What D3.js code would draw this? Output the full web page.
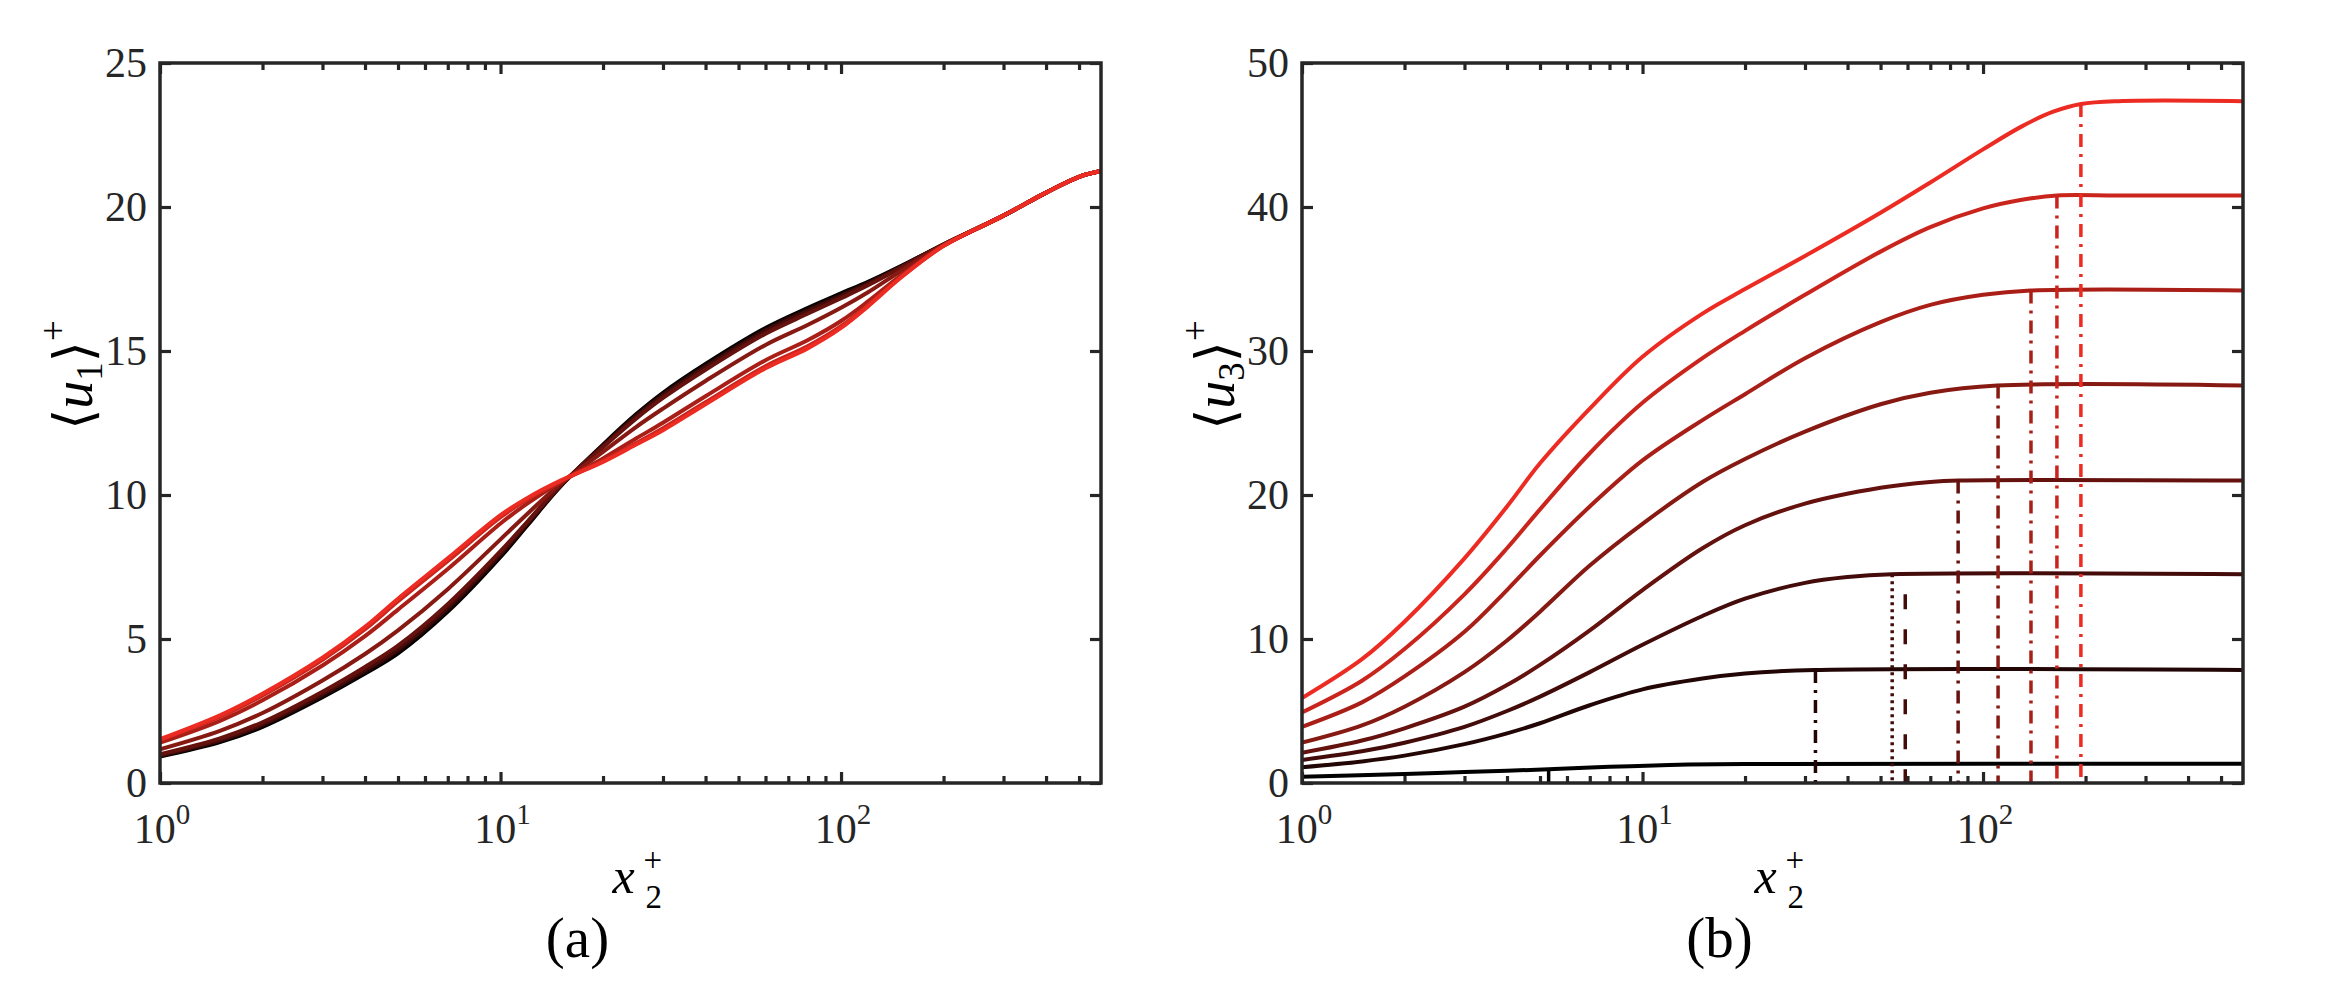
<!DOCTYPE html>
<html>
<head>
<meta charset="utf-8">
<script src="https://cdn.jsdelivr.net/npm/d3@7"></script>
<style>
  body { margin: 0; background: #fff; }
  svg { display: block; }
</style>
</head>
<body>
<div id="fig"></div>
<script>
// ---- data ----

// panel (a): x2+ grid shared by the eight <u1>+ profiles
const xA = [1, 1.5, 2, 3, 4, 5, 7, 10, 12, 15, 20, 25, 30, 40, 60, 80, 100, 120, 150, 200, 300, 400, 500, 580];

// <u1>+ profiles, darkest (black) first, brightest red last
const u1Profiles = [
  [0.92, 1.42, 1.95, 2.98, 3.80, 4.50, 5.95, 7.85, 8.95, 10.30, 11.75, 12.80, 13.55, 14.55, 15.80, 16.50, 17.00, 17.40, 17.95, 18.70, 19.70, 20.50, 21.05, 21.25],
  [0.94, 1.46, 2.00, 3.03, 3.86, 4.58, 6.02, 7.91, 8.99, 10.31, 11.72, 12.76, 13.50, 14.49, 15.74, 16.44, 16.95, 17.37, 17.93, 18.70, 19.70, 20.50, 21.05, 21.25],
  [0.97, 1.49, 2.04, 3.09, 3.93, 4.65, 6.10, 7.97, 9.03, 10.32, 11.70, 12.72, 13.45, 14.44, 15.69, 16.39, 16.90, 17.33, 17.92, 18.70, 19.70, 20.50, 21.05, 21.25],
  [1.00, 1.55, 2.11, 3.17, 4.03, 4.77, 6.21, 8.05, 9.08, 10.34, 11.66, 12.65, 13.37, 14.35, 15.60, 16.30, 16.83, 17.28, 17.89, 18.70, 19.70, 20.50, 21.05, 21.25],
  [1.17, 1.81, 2.43, 3.56, 4.48, 5.30, 6.73, 8.46, 9.35, 10.39, 11.50, 12.36, 13.00, 13.96, 15.21, 15.91, 16.50, 17.04, 17.78, 18.68, 19.70, 20.50, 21.05, 21.25],
  [1.40, 2.16, 2.87, 4.08, 5.10, 6.02, 7.43, 9.01, 9.71, 10.45, 11.27, 11.96, 12.51, 13.43, 14.68, 15.38, 16.04, 16.72, 17.63, 18.66, 19.70, 20.50, 21.05, 21.25],
  [1.49, 2.30, 3.04, 4.28, 5.34, 6.31, 7.71, 9.23, 9.85, 10.48, 11.18, 11.80, 12.32, 13.22, 14.47, 15.17, 15.86, 16.59, 17.57, 18.65, 19.70, 20.50, 21.05, 21.25],
  [1.52, 2.35, 3.10, 4.35, 5.42, 6.40, 7.80, 9.30, 9.90, 10.50, 11.15, 11.75, 12.25, 13.15, 14.40, 15.10, 15.80, 16.55, 17.55, 18.65, 19.70, 20.50, 21.05, 21.25]
];

// panel (b): each <u3>+ profile has its own x2+ samples
const u3X = [
  [1, 2, 3, 5.3, 8, 12, 20, 580],
  [1, 1.5, 2, 3, 4, 5, 7, 10, 15, 20, 32, 580],
  [1, 1.5, 2, 3, 4, 5, 7, 10, 15, 20, 30, 40, 54, 580],
  [1, 1.5, 2, 3, 4, 5, 7, 10, 15, 20, 30, 50, 70, 85, 580],
  [1, 1.5, 2, 3, 4, 5, 7, 10, 15, 20, 30, 50, 70, 110, 580],
  [1, 1.5, 2, 3, 4, 5, 7, 10, 15, 20, 30, 50, 70, 100, 138, 580],
  [1, 1.5, 2, 3, 4, 5, 7, 10, 15, 20, 30, 50, 70, 100, 130, 165, 250, 580],
  [1, 1.5, 2, 3, 4, 5, 7, 10, 15, 20, 30, 50, 70, 100, 130, 160, 194, 250, 580]
];
const u3Y = [
  [0.44, 0.62, 0.76, 0.95, 1.12, 1.25, 1.32, 1.33],
  [1.1, 1.5, 1.9, 2.7, 3.45, 4.15, 5.4, 6.5, 7.25, 7.6, 7.85, 7.85],
  [1.6, 2.2, 2.8, 3.9, 5.0, 6.0, 7.7, 9.6, 11.6, 12.8, 13.9, 14.3, 14.5, 14.5],
  [2.1, 2.95, 3.8, 5.3, 6.8, 8.2, 10.6, 13.4, 16.3, 17.9, 19.4, 20.5, 20.9, 21.0, 21.0],
  [2.8, 4.0, 5.3, 7.7, 9.9, 11.9, 15.1, 18.0, 20.9, 22.5, 24.4, 26.3, 27.1, 27.6, 27.6],
  [3.9, 5.6, 7.4, 10.5, 13.4, 15.8, 19.2, 22.4, 25.2, 27.0, 29.5, 32.0, 33.2, 33.9, 34.2, 34.2],
  [4.9, 7.1, 9.3, 13.1, 16.3, 19.0, 22.9, 26.4, 29.5, 31.4, 33.9, 36.9, 38.6, 39.9, 40.5, 40.8, 40.8, 40.8],
  [5.9, 8.6, 11.2, 15.6, 19.2, 22.2, 26.0, 29.6, 32.6, 34.3, 36.6, 39.6, 41.7, 44.0, 45.6, 46.6, 47.15, 47.35, 47.35]
];

// vertical markers in panel (b): position, top value, profile they belong to, line kind
const markX = [5.3, 32.2, 54.1, 59.1, 84.5, 110.7, 138.3, 164.8, 193.8];
const markTop = [0.95, 7.85, 14.5, 14.5, 21.0, 27.6, 34.2, 40.8, 47.15];
const markProfile = [0, 1, 2, 2, 3, 4, 5, 6, 7];
const markKind = ["solid", "dashdot", "dotted", "dashed", "dashdot", "dashdot", "dashdot", "dashdot", "dashdot"];

// ticks
const majorX = [1, 10, 100];
const majorXExp = ["0", "1", "2"];
const minorX = [2, 3, 4, 5, 6, 7, 8, 9, 20, 30, 40, 50, 60, 70, 80, 90, 200, 300, 400, 500];
const yTicksA = [0, 5, 10, 15, 20, 25];
const yTicksB = [0, 10, 20, 30, 40, 50];

// ---- layout ----
const W = 2338, H = 998;
const plotTop = 63, plotBottom = 783, panelW = 941;
const xMax = 580;
const axisColor = "#262626";
const red = "#ec2b22";
const serif = "'Liberation Serif', 'Times New Roman', serif";
const bracketFont = "'DejaVu Sans', sans-serif";

const shade = d3.scaleLinear().domain([0, 7]).range(["#000000", red]).interpolate(d3.interpolateRgb);
const dashes = { solid: null, dashdot: "13,7,3,7", dotted: "3,4", dashed: "15,20" };

const svg = d3.select("#fig").append("svg")
    .attr("width", W)
    .attr("height", H)
    .attr("font-family", serif);
svg.append("rect").attr("width", W).attr("height", H).attr("fill", "#fff");

const makePanel = function (id, left, yMax) {
    const x = d3.scaleLog().domain([1, xMax]).range([left, left + panelW]);
    const y = d3.scaleLinear().domain([0, yMax]).range([plotBottom, plotTop]);
    const g = svg.append("g");
    svg.append("clipPath").attr("id", "clip-" + id)
        .append("rect")
        .attr("x", left).attr("y", plotTop)
        .attr("width", panelW).attr("height", plotBottom - plotTop);
    const plot = g.append("g").attr("clip-path", "url(#clip-" + id + ")");
    return { x: x, y: y, g: g, plot: plot, left: left };
};

const drawFrame = function (p, yTicks, yLabelSub, caption) {
    const g = p.g;
    // x ticks (bottom and top), inward
    [[d3.axisBottom, plotBottom], [d3.axisTop, plotTop]].forEach(([ax, pos]) => {
        g.append("g").attr("transform", "translate(0," + pos + ")")
            .call(ax(p.x).tickValues(minorX).tickSize(-7).tickSizeOuter(0).tickFormat(""));
        g.append("g").attr("transform", "translate(0," + pos + ")")
            .call(ax(p.x).tickValues(majorX).tickSize(-11).tickSizeOuter(0).tickFormat(""));
    });
    // y ticks, left with labels, right without
    g.append("g").attr("class", "yaxis")
        .attr("transform", "translate(" + p.left + ",0)")
        .call(d3.axisLeft(p.y).tickValues(yTicks).tickSize(-11).tickSizeOuter(0).tickPadding(13));
    g.append("g")
        .attr("transform", "translate(" + (p.left + panelW) + ",0)")
        .call(d3.axisRight(p.y).tickValues(yTicks).tickSize(-11).tickSizeOuter(0).tickFormat(""));

    g.selectAll(".domain").remove();
    g.selectAll(".tick line").attr("stroke", axisColor).attr("stroke-width", 3.2);
    g.selectAll(".yaxis text")
        .attr("fill", axisColor)
        .style("font-family", serif)
        .style("font-size", "42px")
        .attr("dy", "0.33em");

    g.append("rect")
        .attr("x", p.left).attr("y", plotTop)
        .attr("width", panelW).attr("height", plotBottom - plotTop)
        .attr("fill", "none")
        .attr("stroke", axisColor)
        .attr("stroke-width", 3.5);

    // x tick labels 10^n
    majorX.forEach((v, i) => {
        const t = g.append("text")
            .attr("x", p.x(v) + 2)
            .attr("y", 843)
            .attr("text-anchor", "middle")
            .attr("fill", axisColor)
            .style("font-family", serif)
            .style("font-size", "42px");
        t.append("tspan").text("10");
        t.append("tspan").attr("dy", -19).style("font-size", "29px").text(majorXExp[i]);
    });

    const cx = p.left + panelW / 2;
    // x label x2+
    g.append("text").attr("x", cx - 18).attr("y", 893)
        .style("font-family", serif)
        .style("font-size", "50px").style("font-style", "italic").text("x");
    g.append("text").attr("x", cx + 15).attr("y", 908)
        .style("font-family", serif)
        .style("font-size", "33px").text("2");
    g.append("text").attr("x", cx + 13).attr("y", 871)
        .style("font-family", serif)
        .style("font-size", "33px").text("+");

    // y label <u_n>+
    const yl = g.append("text")
        .attr("transform", "translate(" + (p.left - 68) + ",375) rotate(-90)")
        .attr("text-anchor", "middle")
        .style("font-family", serif)
        .style("font-size", "56px");
    yl.append("tspan").style("font-family", bracketFont).style("font-size", "54px").text("\u27E8");
    yl.append("tspan").style("font-style", "italic").text("u");
    yl.append("tspan").attr("dy", 10).style("font-size", "37px").text(yLabelSub);
    yl.append("tspan").attr("dy", -10).style("font-family", bracketFont).style("font-size", "54px").text("\u27E9");
    yl.append("tspan").attr("dy", -26).style("font-size", "37px").text("+");

    // panel caption
    g.append("text").attr("x", cx - 53).attr("y", 957)
        .attr("text-anchor", "middle")
        .style("font-family", serif)
        .style("font-size", "57px")
        .text(caption);
};

// ---- panel (a) ----
const pA = makePanel("a", 160, 25);
u1Profiles.forEach((vals, k) => {
    const line = d3.line()
        .x((d, i) => pA.x(xA[i]))
        .y(d => pA.y(d))
        .curve(d3.curveCatmullRom.alpha(0.5));
    pA.plot.append("path")
        .attr("d", line(vals))
        .attr("fill", "none")
        .attr("stroke", shade(k))
        .attr("stroke-width", 4);
});
drawFrame(pA, yTicksA, "1", "(a)");

// ---- panel (b) ----
const pB = makePanel("b", 1302, 50);
u3Y.forEach((vals, k) => {
    const xs = u3X[k];
    const line = d3.line()
        .x((d, i) => pB.x(xs[i]))
        .y(d => pB.y(d))
        .curve(d3.curveCatmullRom.alpha(0.5));
    pB.plot.append("path")
        .attr("d", line(vals))
        .attr("fill", "none")
        .attr("stroke", shade(k))
        .attr("stroke-width", 4);
});
markX.forEach((mx, i) => {
    const kind = markKind[i];
    pB.plot.append("line")
        .attr("x1", pB.x(mx)).attr("x2", pB.x(mx))
        .attr("y1", pB.y(markTop[i])).attr("y2", pB.y(0))
        .attr("stroke", shade(markProfile[i]))
        .attr("stroke-width", 3.5)
        .attr("stroke-dasharray", dashes[kind])
        .attr("stroke-dashoffset", kind === "dashed" ? 15 : 0);
});
drawFrame(pB, yTicksB, "3", "(b)");
</script>
</body>
</html>
